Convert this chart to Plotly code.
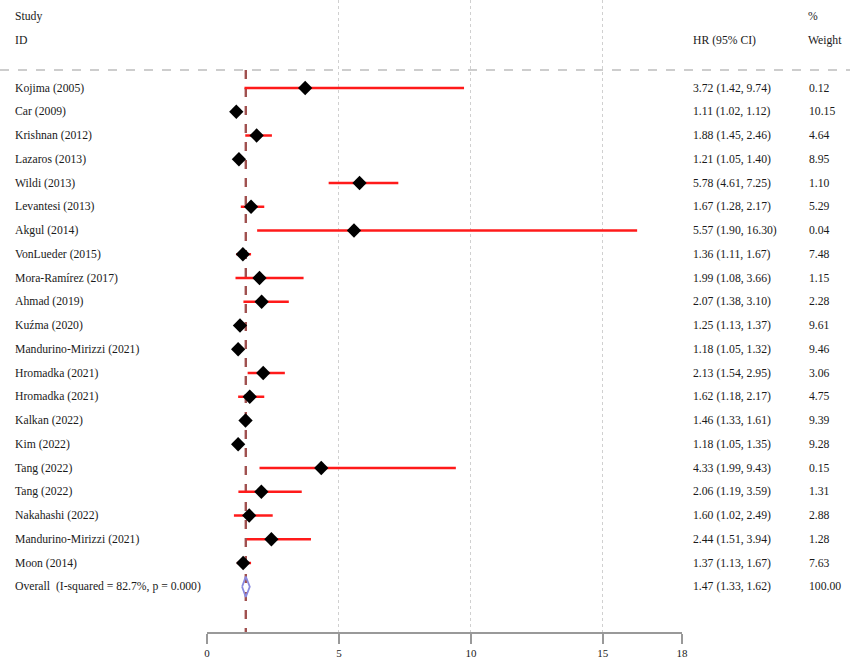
import plotly.graph_objects as go

studies = ["Kojima (2005)", "Car (2009)", "Krishnan (2012)", "Lazaros (2013)", "Wildi (2013)",
           "Levantesi (2013)", "Akgul (2014)", "VonLueder (2015)", "Mora-Ramírez (2017)", "Ahmad (2019)",
           "Kuźma (2020)", "Mandurino-Mirizzi (2021)", "Hromadka (2021)", "Hromadka (2021)", "Kalkan (2022)",
           "Kim (2022)", "Tang (2022)", "Tang (2022)", "Nakahashi (2022)", "Mandurino-Mirizzi (2021)", "Moon (2014)"]
hr = [3.72, 1.11, 1.88, 1.21, 5.78, 1.67, 5.57, 1.36, 1.99, 2.07, 1.25, 1.18, 2.13, 1.62, 1.46, 1.18, 4.33, 2.06, 1.60, 2.44, 1.37]
lo = [1.42, 1.02, 1.45, 1.05, 4.61, 1.28, 1.90, 1.11, 1.08, 1.38, 1.13, 1.05, 1.54, 1.18, 1.33, 1.05, 1.99, 1.19, 1.02, 1.51, 1.13]
hi = [9.74, 1.12, 2.46, 1.40, 7.25, 2.17, 16.30, 1.67, 3.66, 3.10, 1.37, 1.32, 2.95, 2.17, 1.61, 1.35, 9.43, 3.59, 2.49, 3.94, 1.67]
weights = ["0.12", "10.15", "4.64", "8.95", "1.10", "5.29", "0.04", "7.48", "1.15", "2.28", "9.61", "9.46",
           "3.06", "4.75", "9.39", "9.28", "0.15", "1.31", "2.88", "1.28", "7.63"]

overall_label = "Overall  (I-squared = 82.7%, p = 0.000)"
overall_hr, overall_lo, overall_hi = 1.47, 1.33, 1.62
overall_weight = "100.00"

tick_vals = [0, 5, 10, 15, 18]

W, H = 850, 661
FONT = "Liberation Serif"
TXT = "#1a1a1a"
FS = 11.7

rows = list(range(len(studies)))
overall_row = len(studies)

fig = go.Figure()

# CI lines
xs, ys = [], []
for i in rows:
    xs += [lo[i], hi[i], None]
    ys += [i, i, None]
fig.add_trace(go.Scatter(x=xs, y=ys, mode="lines", line=dict(color="#ff1a1a", width=2.5),
                         hoverinfo="skip", showlegend=False))

# point estimates
fig.add_trace(go.Scatter(x=hr, y=rows, mode="markers",
                         marker=dict(symbol="diamond", size=11, color="black"),
                         showlegend=False))

# overall diamond
h = 0.43
fig.add_trace(go.Scatter(x=[overall_lo, overall_hr, overall_hi, overall_hr, overall_lo],
                         y=[overall_row, overall_row - h, overall_row, overall_row + h, overall_row],
                         mode="lines", line=dict(color="#8a8ae0", width=1.8),
                         hoverinfo="skip", showlegend=False))

y_top = -3.705
y_bot = 22.905

shapes = []
# header separator dashed line
shapes.append(dict(type="line", xref="paper", yref="y", x0=0, x1=1, y0=-0.76, y1=-0.76,
                   line=dict(color="#bdbdbd", width=1.5, dash="dash"), layer="below"))
# overall effect line
shapes.append(dict(type="line", xref="x", yref="y", x0=overall_hr, x1=overall_hr, y0=-0.76, y1=y_bot,
                   line=dict(color="#a0504f", width=2.4, dash="dash"), layer="below"))

annotations = []
def txt(x, y, s):
    annotations.append(dict(x=x / W, y=y, xref="paper", yref="y", text=s, showarrow=False,
                            xanchor="left", yanchor="middle", font=dict(family=FONT, size=FS, color=TXT)))

txt(13, -3, "Study")
txt(13, -2, "ID")
txt(691, -2, "HR (95% CI)")
txt(806, -3, "%")
txt(806, -2, "Weight")
for i in rows:
    txt(13, i, studies[i])
    txt(691, i, f"{hr[i]:.2f} ({lo[i]:.2f}, {hi[i]:.2f})")
    txt(807, i, weights[i])
txt(13, overall_row, overall_label)
txt(691, overall_row, f"{overall_hr:.2f} ({overall_lo:.2f}, {overall_hi:.2f})")
txt(807, overall_row, overall_weight)

fig.update_layout(
    width=W, height=H,
    margin=dict(l=0, r=0, t=0, b=0),
    paper_bgcolor="white", plot_bgcolor="white",
    showlegend=False,
    shapes=shapes,
    annotations=annotations,
    xaxis=dict(domain=[207 / W, 682 / W], range=[0, 18], tickvals=tick_vals,
               showgrid=True, gridcolor="#d0d0d0", griddash="dot", gridwidth=1,
               zeroline=False, showline=True, linecolor="#999999", linewidth=2,
               ticks="outside", ticklen=10, tickwidth=2, tickcolor="#999999",
               tickfont=dict(family=FONT, size=11, color=TXT), automargin=False),
    yaxis=dict(domain=[(H - 632) / H, 1], range=[y_bot, y_top], visible=False,
               showgrid=False, zeroline=False),
)

fig.write_html("out.html", config={"displayModeBar": False},
               post_script="document.body.style.margin='0';document.body.style.overflow='hidden';")
